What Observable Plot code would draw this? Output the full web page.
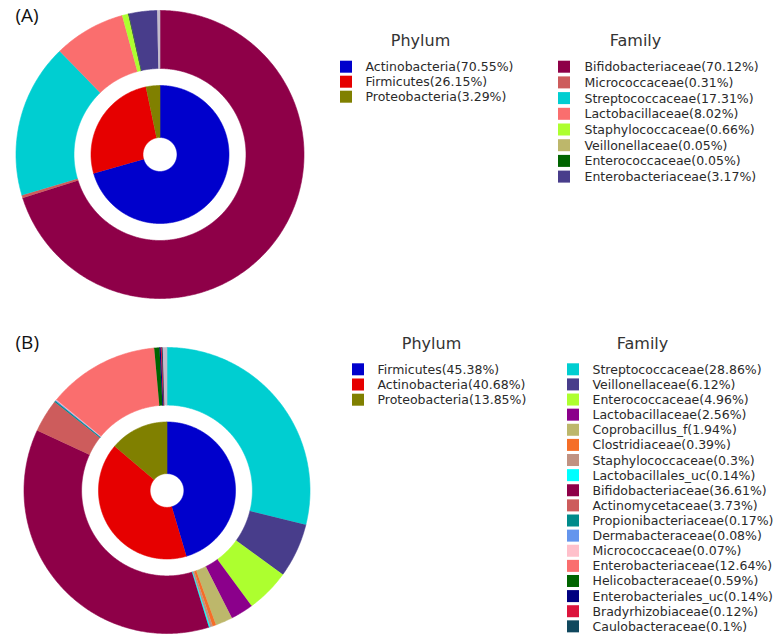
<!DOCTYPE html>
<html><head><meta charset="utf-8">
<script src="https://cdn.jsdelivr.net/npm/d3@7"></script>
<script src="https://cdn.jsdelivr.net/npm/@observablehq/plot@0.6"></script>
<style>body{margin:0;background:#fff}</style>
</head><body><div id="chart"></div>
<script>
// ---- Data ----
const panelLabels = ["(A)", "(B)"];

const phylumA = ["Actinobacteria", "Firmicutes", "Proteobacteria"];
const phylumAValues = [70.55, 26.15, 3.29];
const phylumAColors = ["#0000cc", "#e60000", "#808000"];

const familyA = ["Bifidobacteriaceae", "Micrococcaceae", "Streptococcaceae", "Lactobacillaceae", "Staphylococcaceae", "Veillonellaceae", "Enterococcaceae", "Enterobacteriaceae"];
const familyAValues = [70.12, 0.31, 17.31, 8.02, 0.66, 0.05, 0.05, 3.17];
const familyAColors = ["#8e0048", "#cd5c5c", "#00ced1", "#fa6e6e", "#adff2f", "#bdb76b", "#006400", "#483d8b"];

const phylumB = ["Firmicutes", "Actinobacteria", "Proteobacteria"];
const phylumBValues = [45.38, 40.68, 13.85];
const phylumBColors = ["#0000cc", "#e60000", "#808000"];

const familyB = ["Streptococcaceae", "Veillonellaceae", "Enterococcaceae", "Lactobacillaceae", "Coprobacillus_f", "Clostridiaceae", "Staphylococcaceae", "Lactobacillales_uc", "Bifidobacteriaceae", "Actinomycetaceae", "Propionibacteriaceae", "Dermabacteraceae", "Micrococcaceae", "Enterobacteriaceae", "Helicobacteraceae", "Enterobacteriales_uc", "Bradyrhizobiaceae", "Caulobacteraceae"];
const familyBValues = [28.86, 6.12, 4.96, 2.56, 1.94, 0.39, 0.3, 0.14, 36.61, 3.73, 0.17, 0.08, 0.07, 12.64, 0.59, 0.14, 0.12, 0.1];
const familyBColors = ["#00ced1", "#483d8b", "#adff2f", "#8b008b", "#bdb76b", "#f56e28", "#c09282", "#00ffff", "#8e0048", "#cd5c5c", "#008b8b", "#6495ed", "#ffc0cb", "#fa6e6e", "#006400", "#000080", "#dc143c", "#10485e"];

const remainderColor = "#c4bccc";

// ---- Layout ----
const W = 782, H = 643;
const panels = [
  {label: panelLabels[0], lx: 15, ly: 15, cx: 159.5, cy: 154, R: 144,
   inner: {names: phylumA, values: phylumAValues, colors: phylumAColors},
   outer: {names: familyA, values: familyAValues, colors: familyAColors},
   legP: {tx: 420, ty: 40, sx: 340, x: 365, y0: 66.7, dy: 15},
   legF: {tx: 635, ty: 40, sx: 558, x: 584, y0: 66.7, dy: 15.7}},
  {label: panelLabels[1], lx: 15, ly: 342, cx: 166.5, cy: 490, R: 143,
   inner: {names: phylumB, values: phylumBValues, colors: phylumBColors},
   outer: {names: familyB, values: familyBValues, colors: familyBColors},
   legP: {tx: 431, ty: 343, sx: 352, x: 377, y0: 369.3, dy: 15.2},
   legF: {tx: 642, ty: 343, sx: 567, x: 592, y0: 369.3, dy: 15.12}}
];

function ringPolys(group, cx, cy, r0, r1, withRest, tag) {
  const items = group.values.map((v, i) => ({v, c: group.colors[i], n: group.names[i]}));
  const sum = d3.sum(group.values);
  if (withRest && 100 - sum > 0.01) items.push({v: 100 - sum, c: remainderColor, n: "rest"});
  const arcs = d3.pie().sort(null).value(d => d.v)(items);
  const pts = [];
  arcs.forEach((a, i) => {
    const id = tag + "-" + i;
    const n = Math.max(2, Math.ceil((a.endAngle - a.startAngle) / (Math.PI / 360)) + 1);
    for (let k = 0; k < n; k++) {
      const t = a.startAngle + (a.endAngle - a.startAngle) * k / (n - 1);
      pts.push({id, c: a.data.c, x: cx + r1 * Math.sin(t), y: cy - r1 * Math.cos(t)});
    }
    for (let k = n - 1; k >= 0; k--) {
      const t = a.startAngle + (a.endAngle - a.startAngle) * k / (n - 1);
      pts.push({id, c: a.data.c, x: cx + r0 * Math.sin(t), y: cy - r0 * Math.cos(t)});
    }
  });
  return pts;
}

const polys = [];
const legendRows = [];
const titles = [];
const labels = [];
panels.forEach((p, pi) => {
  const s = p.R / 144;
  polys.push(...ringPolys(p.outer, p.cx, p.cy, 86 * s, p.R, true, "o" + pi));
  polys.push(...ringPolys(p.inner, p.cx, p.cy, 17 * s, 69 * s, false, "i" + pi));
  labels.push({x: p.lx, y: p.ly, t: p.label});
  titles.push({x: p.legP.tx, y: p.legP.ty, t: "Phylum"});
  titles.push({x: p.legF.tx, y: p.legF.ty, t: "Family"});
  [[p.inner, p.legP], [p.outer, p.legF]].forEach(([g, L]) => {
    g.names.forEach((name, i) => {
      legendRows.push({sx: L.sx, x: L.x, y: L.y0 + i * L.dy, c: g.colors[i], t: `${name}(${g.values[i]}%)`});
    });
  });
});

const chart = Plot.plot({
  width: W, height: H, margin: 0,
  x: {domain: [0, W], range: [0, W], axis: null},
  y: {domain: [0, H], range: [0, H], axis: null},
  color: {type: "identity"},
  marks: [
    Plot.line(polys, {x: "x", y: "y", z: "id", fill: "c", stroke: "c", strokeWidth: 0.6, curve: "linear"}),
    Plot.rect(legendRows, {x1: d => d.sx, x2: d => d.sx + 12, y1: d => d.y - 6, y2: d => d.y + 6, fill: "c"}),
    Plot.text(legendRows, {x: "x", y: "y", text: "t", textAnchor: "start", fontSize: 12.5, fontFamily: "DejaVu Sans", fill: "#2a2a2a"}),
    Plot.text(titles, {x: "x", y: "y", text: "t", textAnchor: "middle", fontSize: 16, fontFamily: "DejaVu Sans", fill: "#333"}),
    Plot.text(labels, {x: "x", y: "y", text: "t", textAnchor: "start", fontSize: 19, fontFamily: "Open Sans", fill: "#111"})
  ]
});
document.getElementById("chart").appendChild(chart);
</script>
</body></html>
